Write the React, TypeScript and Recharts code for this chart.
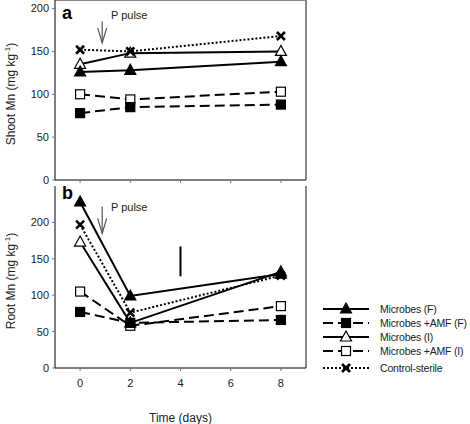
import React from "react";
import { LineChart, Line, XAxis, YAxis, ReferenceLine, Label } from "recharts";

const days = [0, 2, 8];
const xTicks = [0, 2, 4, 6, 8];

// panel a: shoot Mn (mg kg-1)
const shootMicrobesF = [126, 128, 138];
const shootMicrobesAmfF = [78, 85, 88];
const shootMicrobesI = [135, 148, 150];
const shootMicrobesAmfI = [100, 94, 103];
const shootControl = [152, 150, 168];
const shootTicks = [0, 50, 100, 150, 200];

// panel b: root Mn (mg kg-1)
const rootMicrobesF = [228, 99, 129];
const rootMicrobesAmfF = [77, 62, 66];
const rootMicrobesI = [173, 62, 132];
const rootMicrobesAmfI = [105, 58, 85];
const rootControl = [197, 76, 127];
const rootTicks = [0, 50, 100, 150, 200];
const rootLsd = [126, 167]; // error bar at day 4

const pulseDay = 0.88;

const shootData = days.map((d, i) => ({
  day: d,
  mF: shootMicrobesF[i],
  aF: shootMicrobesAmfF[i],
  mI: shootMicrobesI[i],
  aI: shootMicrobesAmfI[i],
  ctrl: shootControl[i],
}));

const rootData = days.map((d, i) => ({
  day: d,
  mF: rootMicrobesF[i],
  aF: rootMicrobesAmfF[i],
  mI: rootMicrobesI[i],
  aI: rootMicrobesAmfI[i],
  ctrl: rootControl[i],
}));

const FONT = "'Liberation Sans', Arial, sans-serif";

const triangle = (filled: boolean) => (p: any) => (
  <polygon
    key={p.key ?? p.index}
    points={`${p.cx},${p.cy - 6} ${p.cx - 5.5},${p.cy + 4} ${p.cx + 5.5},${p.cy + 4}`}
    fill={filled ? "#000" : "#fff"}
    stroke="#000"
    strokeWidth={1.2}
  />
);

const square = (filled: boolean) => (p: any) => (
  <rect
    key={p.key ?? p.index}
    x={p.cx - 4.5}
    y={p.cy - 4.5}
    width={9}
    height={9}
    fill={filled ? "#000" : "#fff"}
    stroke="#000"
    strokeWidth={1.2}
  />
);

const cross = (p: any) => (
  <g key={p.key ?? p.index} stroke="#000" strokeWidth={2.6}>
    <line x1={p.cx - 4} y1={p.cy - 4} x2={p.cx + 4} y2={p.cy + 4} />
    <line x1={p.cx - 4} y1={p.cy + 4} x2={p.cx + 4} y2={p.cy - 4} />
  </g>
);

const series = [
  { key: "mI", name: "Microbes (I)", dash: undefined, dot: triangle(false) },
  { key: "mF", name: "Microbes (F)", dash: undefined, dot: triangle(true) },
  { key: "aI", name: "Microbes +AMF (I)", dash: "10 5", dot: square(false) },
  { key: "aF", name: "Microbes +AMF (F)", dash: "10 5", dot: square(true) },
  { key: "ctrl", name: "Control-sterile", dash: "2 2", dot: cross },
];

const legendOrder = ["mF", "aF", "mI", "aI", "ctrl"];

const arrowShape = (p: any) => {
  const { x1, y1, x2, y2 } = p;
  const top = Math.min(y1, y2);
  const tip = Math.max(y1, y2);
  return (
    <g stroke="#555" strokeWidth={1.2} fill="none">
      <line x1={x1} y1={top} x2={x2} y2={tip} />
      <polyline points={`${x2 - 4.5},${tip - 15} ${x2},${tip} ${x2 + 4.5},${tip - 15}`} />
    </g>
  );
};

const yLabel = (text: string) => (props: any) => {
  const vb = props.viewBox || {};
  const cy = (vb.y ?? 0) + (vb.height ?? 0) / 2 + 4;
  return (
    <text
      x={15}
      y={cy}
      transform={`rotate(-90, 15, ${cy})`}
      textAnchor="middle"
      fontSize={12}
      fill="#222"
      fontFamily={FONT}
    >
      {text} (mg kg
      <tspan dy={-5} fontSize={8}>
        -1
      </tspan>
      <tspan dy={5}>)</tspan>
    </text>
  );
};

const tick = { fontSize: 11, fill: "#222", fontFamily: FONT };

function Panel({
  data,
  yMax,
  yTicks,
  label,
  bottom,
}: {
  data: any[];
  yMax: number;
  yTicks: number[];
  label: string;
  bottom: boolean;
}) {
  return (
    <LineChart
      width={310}
      height={bottom ? 238 : 200}
      data={data}
      margin={{ top: 0, right: 4, left: 0, bottom: 0 }}
    >
      <XAxis
        dataKey="day"
        type="number"
        domain={[-1, 9]}
        ticks={xTicks}
        allowDataOverflow
        height={bottom ? 56 : 20}
        stroke="#000"
        tickLine={{ stroke: "#777" }}
        tickSize={3}
        tickMargin={8}
        tick={tick}
        tickFormatter={bottom ? undefined : () => ""}
      >
        {bottom && (
          <Label
            value="Time (days)"
            position="insideBottom"
            offset={2}
            style={{ fontSize: 12, fill: "#222", fontFamily: FONT }}
          />
        )}
      </XAxis>
      <YAxis
        type="number"
        domain={[0, yMax]}
        ticks={yTicks}
        width={55}
        stroke="#000"
        tickLine={{ stroke: "#777" }}
        tickSize={3}
        tickMargin={3}
        tick={tick}
      >
        <Label content={yLabel(label)} />
      </YAxis>
      {!bottom && <ReferenceLine y={yMax} stroke="#888" strokeWidth={2} />}
      <ReferenceLine x={9} stroke="#888" strokeWidth={2} />
      <ReferenceLine
        segment={
          bottom
            ? [
                { x: pulseDay, y: 222 },
                { x: pulseDay, y: 185 },
              ]
            : [
                { x: pulseDay, y: 185 },
                { x: pulseDay, y: 160 },
              ]
        }
        shape={arrowShape}
      />
      {bottom && (
        <ReferenceLine
          segment={[
            { x: 4, y: rootLsd[0] },
            { x: 4, y: rootLsd[1] },
          ]}
          stroke="#000"
          strokeWidth={2}
        />
      )}
      {series.map((s) => (
        <Line
          key={s.key}
          dataKey={s.key}
          name={s.name}
          stroke="#000"
          strokeWidth={2}
          strokeDasharray={s.dash}
          dot={s.dot}
          activeDot={false}
          isAnimationActive={false}
        />
      ))}
    </LineChart>
  );
}

function LegendSample({ k }: { k: string }) {
  const s = series.find((x) => x.key === k)!;
  return (
    <svg width={46} height={14} style={{ display: "block", flex: "none" }}>
      <line x1={0} y1={7} x2={46} y2={7} stroke="#000" strokeWidth={2} strokeDasharray={s.dash} />
      {s.dot({ cx: 23, cy: 7, key: k })}
    </svg>
  );
}

export default function App() {
  const txt: React.CSSProperties = {
    position: "absolute",
    fontFamily: FONT,
    color: "#222",
    whiteSpace: "nowrap",
  };
  return (
    <div
      style={{
        position: "absolute",
        left: 0,
        top: 0,
        width: 470,
        height: 424,
        background: "#fff",
        fontFamily: FONT,
        overflow: "hidden",
      }}
    >
      <div style={{ position: "absolute", left: 0, top: 0 }}>
        <Panel data={shootData} yMax={210} yTicks={shootTicks} label="Shoot Mn" bottom={false} />
      </div>
      <div style={{ position: "absolute", left: 0, top: 186 }}>
        <Panel data={rootData} yMax={250} yTicks={rootTicks} label="Root Mn" bottom />
      </div>
      <div style={{ ...txt, left: 62, top: 3, fontSize: 18, fontWeight: "bold", color: "#000" }}>a</div>
      <div style={{ ...txt, left: 62, top: 183, fontSize: 18, fontWeight: "bold", color: "#000" }}>b</div>
      <div style={{ ...txt, left: 111, top: 9, fontSize: 11 }}>P pulse</div>
      <div style={{ ...txt, left: 111, top: 201, fontSize: 11 }}>P pulse</div>
      <div style={{ position: "absolute", left: 323, top: 302, width: 146 }}>
        {legendOrder.map((k, i) => (
          <div
            key={k}
            style={{
              display: "flex",
              alignItems: "center",
              height: 14,
              marginTop: i === 4 ? 3 : 0,
              whiteSpace: "nowrap",
            }}
          >
            <LegendSample k={k} />
            <span
              style={{
                marginLeft: 11,
                fontSize: 10.5,
                letterSpacing: -0.2,
                color: "#222",
                fontFamily: FONT,
                whiteSpace: "nowrap",
              }}
            >
              {series.find((x) => x.key === k)!.name}
            </span>
          </div>
        ))}
      </div>
    </div>
  );
}
